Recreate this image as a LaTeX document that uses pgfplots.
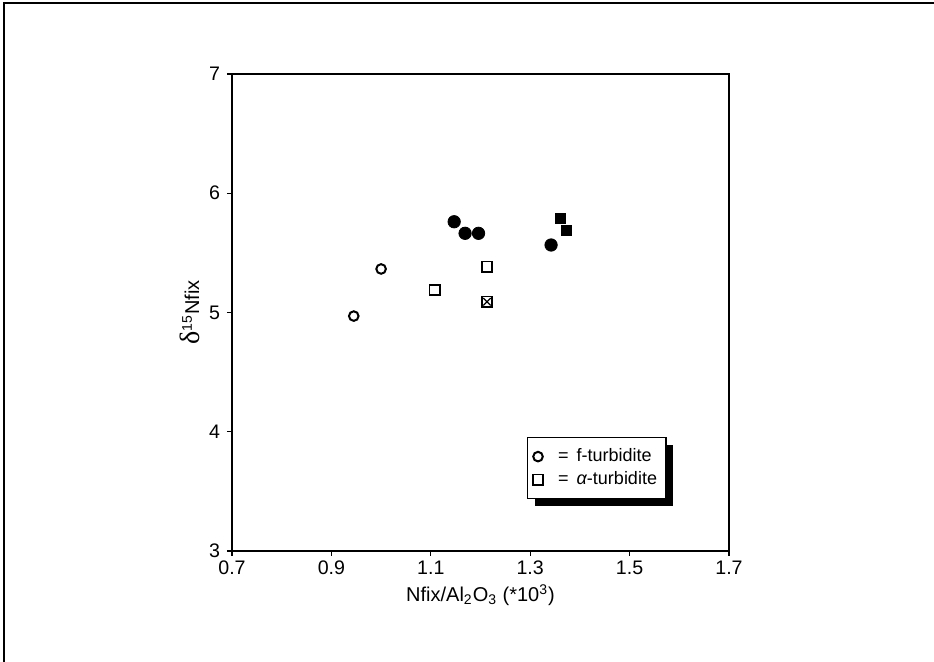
\documentclass[border=0pt]{standalone}
\usepackage{fontspec}
\setmainfont{Liberation Sans}
\newfontfamily\serifgreek{Liberation Serif}
\usepackage{pgfplots}
\pgfplotsset{compat=1.18}
\usetikzlibrary{shadows}

\begin{document}
\begin{tikzpicture}[x=0.5pt,y=0.5pt]
  % page area
  \useasboundingbox (0,0) rectangle (934,662);
  % frame of the figure panel (top and left edges)
  \draw[line width=1.1pt] (4,0) -- (4,659) -- (934,659);

  \begin{axis}[
    scale only axis,
    width=248.5pt, height=238.5pt,
    at={(116pt,55.5pt)}, anchor=south west,
    xmin=0.7, xmax=1.7, ymin=3, ymax=7,
    xtick={0.7,0.9,1.1,1.3,1.5,1.7},
    ytick={3,4,5,6,7},
    xticklabels={0.7,0.9,1.1,1.3,1.5,1.7},
    tick align=outside, major tick length=2.5pt,
    xtick pos=bottom, ytick pos=left,
    axis line style={line width=0.6pt},
    tick style={line width=0.6pt, black},
    /pgf/number format/assume math mode=true,
    tick label style={font=\fontsize{9.8}{11}\selectfont},
    label style={font=\fontsize{10}{12}\selectfont},
    xticklabel style={yshift=1pt},
    xlabel={Nfix/Al\textsubscript{2}O\textsubscript{3} (*10\textsuperscript{3})},
    ylabel={{\serifgreek\fontsize{14}{14}\selectfont δ}\textsuperscript{15}Nfix},
    xlabel style={yshift=2pt},
    ylabel style={yshift=-2pt},
    clip=false,
    legend style={
      at={(0.594,0.239)}, anchor=north west,
      draw=black, line width=0.6pt, fill=white,
      drop shadow={shadow xshift=3.5pt, shadow yshift=-3.5pt, fill=black, opacity=1},
      font=\fontsize{9}{10.5}\selectfont,
      inner xsep=2.5pt, inner ysep=3.5pt,
      row sep=-0.5pt,
      cells={anchor=west},
    },
    legend image code/.code={%
      \draw[#1] plot coordinates {(0.12cm,0cm)};},
  ]
    % open circles: f-turbidite
    \addplot[only marks, mark=o, mark size=2.4pt, line width=1pt, black]
      coordinates {(0.945,4.97) (1.000,5.365)};
    \addlegendentry{\hspace{5.5pt}= \,f-turbidite\hspace{-2.5pt}}
    % open squares: alpha-turbidite
    \addplot[only marks, mark=square, mark size=2.6pt, line width=0.9pt, black]
      coordinates {(1.108,5.19) (1.213,5.384)};
    \addlegendentry{\hspace{5.5pt}= \,{\itshape α}-turbidite\hspace{-2.5pt}}
    % crossed square
    \addplot[only marks, mark=square, mark size=2.6pt, line width=0.9pt, black, forget plot]
      coordinates {(1.213,5.09)};
    \addplot[only marks, mark=x, mark size=2.6pt, line width=0.6pt, black, forget plot]
      coordinates {(1.213,5.09)};
    % filled circles
    \addplot[only marks, mark=*, mark size=3.1pt, black, forget plot]
      coordinates {(1.147,5.761) (1.169,5.664) (1.196,5.664) (1.342,5.566)};
    % filled squares
    \addplot[only marks, mark=square*, mark size=2.5pt, black, forget plot]
      coordinates {(1.361,5.79) (1.372,5.69)};
  \end{axis}
\end{tikzpicture}
\end{document}
